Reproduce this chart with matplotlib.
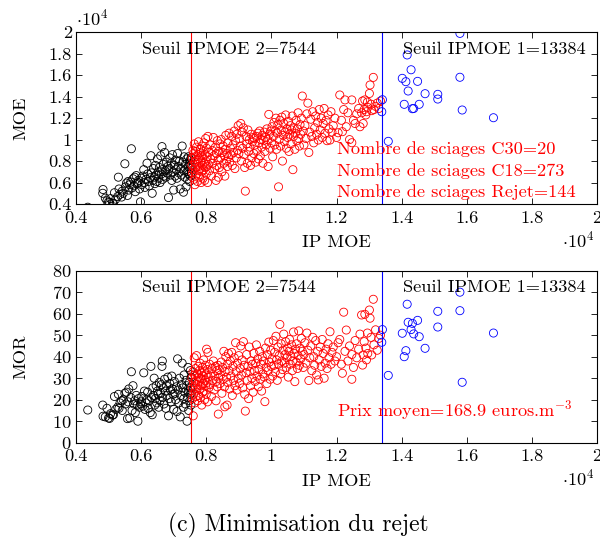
import matplotlib
matplotlib.use('Agg')
import matplotlib.pyplot as plt
from matplotlib.ticker import FuncFormatter, MultipleLocator

plt.rcParams['font.family'] = 'serif'
plt.rcParams['font.serif'] = ['cmr10', 'DejaVu Serif']
plt.rcParams['mathtext.fontset'] = 'cm'
plt.rcParams['axes.formatter.use_mathtext'] = True

# ---------------- data ----------------
seuil_ipmoe_2 = 7544
seuil_ipmoe_1 = 13384

# Rejet (black)
rejet_ip = [4360, 4820, 4830, 4900, 4950, 5000, 5030, 5060, 5120, 5150,
            5180, 5220, 5280, 5300, 5320, 5350, 5400, 5420, 5450, 5500,
            5520, 5550, 5580, 5600, 5620, 5650, 5680, 5700, 5720, 5750,
            5780, 5800, 5820, 5850, 5880, 5900, 5920, 5950, 5980, 6000,
            6020, 6050, 6080, 6100, 6120, 6150, 6180, 6200, 6220, 6250,
            6280, 6300, 6320, 6340, 6360, 6380, 6400, 6420, 6440, 6460,
            6480, 6500, 6520, 6540, 6560, 6580, 6600, 6620, 6640, 6650,
            6660, 6680, 6700, 6720, 6740, 6760, 6780, 6800, 6820, 6840,
            6860, 6880, 6900, 6920, 6940, 6960, 6980, 7000, 7020, 7040,
            7060, 7080, 7100, 7120, 7140, 7160, 7180, 7200, 7220, 7240,
            7260, 7280, 7300, 7310, 7320, 7340, 7360, 7380, 7400, 7410,
            7420, 7440, 7450, 7460, 7480, 7490, 7500, 7510, 7520, 7530,
            7535, 7540]
rejet_moe = [3700, 5000, 5350, 4550, 4300, 4200, 4150, 4500, 4100, 4050,
             5050, 4450, 4700, 6500, 5400, 4900, 4650, 5200, 5000, 7750,
             5600, 5950, 4800, 6100, 5300, 5800, 6050, 9150, 5500, 6350,
             5700, 6500, 5150, 6650, 5900, 6000, 6200, 5400, 4200, 6400,
             5800, 6600, 7200, 6000, 5550, 6300, 7800, 6800, 6100, 5700,
             6450, 8500, 6900, 5000, 6200, 7300, 6500, 5900, 7600, 6700,
             6100, 8200, 7000, 6400, 7400, 6000, 8500, 6800, 9350, 7200,
             6300, 7700, 6600, 8800, 7100, 6500, 7900, 6900, 7500, 4600,
             7300, 8300, 6700, 7800, 6200, 8600, 7000, 5300, 7600, 6600,
             8100, 7200, 6400, 8700, 7500, 6900, 8000, 5400, 7300, 6700,
             9400, 7900, 5100, 7100, 8400, 6500, 7700, 5600, 8200, 7000,
             6300, 7500, 8400, 6800, 7800, 6100, 7300, 8100, 6600, 7600,
             8300, 6900]
rejet_mor = [15.2, 17.5, 12.3, 12.0, 16.0, 11.5, 11.3, 13.5, 12.8, 13.0,
             21.5, 15.5, 16.5, 22.5, 16.0, 18.5, 19.5, 15.0, 20.0, 23.0,
             18.0, 23.5, 11.2, 19.0, 25.0, 11.5, 21.0, 33.0, 15.0, 26.5,
             18.0, 19.5, 14.0, 22.0, 17.5, 10.0, 20.5, 16.5, 18.0, 19.0,
             21.5, 17.0, 32.5, 24.0, 15.5, 18.5, 20.0, 23.5, 16.0, 19.5,
             14.0, 35.5, 21.0, 13.0, 25.5, 22.0, 30.0, 17.5, 20.5, 26.5,
             18.5, 24.0, 22.5, 16.5, 28.0, 19.5, 23.0, 27.0, 35.5, 38.0,
             21.0, 25.5, 18.0, 29.5, 24.0, 16.0, 26.5, 22.0, 30.5, 12.5,
             20.5, 27.5, 24.5, 19.0, 31.0, 25.0, 22.5, 15.5, 28.5, 23.0,
             20.0, 26.0, 14.5, 39.0, 24.5, 18.5, 30.0, 12.0, 22.0, 27.0,
             37.0, 25.5, 16.5, 20.5, 31.5, 23.5, 18.0, 29.0, 26.5, 10.0,
             21.0, 35.0, 24.0, 15.0, 28.0, 19.5, 22.5, 33.5, 25.5, 17.5,
             30.5, 23.0]

# C18 (red)
c18_ip = [7560, 7570, 7580, 7590, 7600, 7610, 7620, 7630, 7640, 7650,
          7660, 7670, 7680, 7690, 7700, 7710, 7720, 7730, 7740, 7750,
          7760, 7770, 7780, 7790, 7800, 7810, 7820, 7830, 7840, 7850,
          7860, 7870, 7880, 7890, 7900, 7910, 7920, 7930, 7940, 7950,
          7960, 7970, 7980, 7990, 8000, 8010, 8020, 8030, 8040, 8050,
          8060, 8080, 8100, 8120, 8140, 8160, 8180, 8200, 8220, 8240,
          8260, 8280, 8300, 8310, 8320, 8340, 8360, 8370, 8380, 8400,
          8420, 8440, 8460, 8480, 8500, 8520, 8540, 8560, 8570, 8580,
          8600, 8620, 8640, 8650, 8660, 8680, 8700, 8720, 8740, 8760,
          8780, 8800, 8820, 8840, 8860, 8880, 8900, 8920, 8940, 8960,
          8980,
          9000, 9020, 9040, 9060, 9080, 9100, 9120, 9140, 9160, 9180,
          9200, 9220, 9240, 9260, 9280, 9300, 9320, 9340, 9360, 9380,
          9400, 9420, 9440, 9460, 9480, 9500, 9520, 9540, 9560, 9580,
          9600, 9620, 9640, 9660, 9680, 9700, 9720, 9740, 9760, 9780,
          9800, 9820, 9840, 9860, 9880, 9900, 9920, 9940, 9960, 9980,
          10000, 10020, 10040, 10060, 10080, 10100, 10120, 10140, 10160, 10180,
          10200, 10220, 10240, 10260, 10280, 10300, 10320, 10340, 10360, 10380,
          10400, 10420, 10440, 10460, 10480, 10500, 10520, 10540, 10560, 10580,
          10600, 10620, 10640, 10660, 10680, 10700, 10720, 10740, 10760, 10780,
          10800, 10820, 10840, 10860, 10880, 10900, 10920, 10950, 10980,
          11000, 11030, 11060, 11090, 11120, 11150, 11180, 11210, 11240, 11270,
          11300, 11330, 11360, 11390, 11420, 11440, 11470, 11500, 11530, 11560,
          11590, 11620, 11650, 11680, 11710, 11740, 11770, 11800, 11830, 11860,
          11900, 11950,
          12000, 12050, 12100, 12150, 12180, 12220, 12260, 12300, 12350, 12400,
          12470, 12470, 12520, 12570, 12620, 12680, 12720, 12770, 12800, 12820,
          12850, 12870, 12900, 12920, 12950, 12960, 13010, 13030, 13060, 13080,
          13130, 13150, 13200, 13250, 13300, 13350]
c18_moe = [7600, 8300, 6900, 9000, 7200, 8700, 6300, 9600, 7900, 5800,
           8400, 7400, 8900, 6700, 9300, 7700, 8100, 6100, 8600, 7100,
           9800, 7500, 8200, 6500, 8800, 7300, 9100, 7900, 6000, 8500,
           7000, 9400, 7600, 8300, 6400, 8900, 7200, 9700, 7800, 6200,
           8600, 7400, 10100, 8000, 6800, 9200, 7500, 8400, 6000, 10300,
           7700, 8800, 7100, 9500, 8200, 6600, 9000, 7800, 10200, 8500,
           7300, 9300, 6200, 8700, 7600, 9900, 8100, 6500, 8900, 7400,
           9600, 8300, 10000, 7000, 8800, 9400, 7800, 8500, 6600, 9100,
           10400, 8000, 8700, 7500, 9700, 8400, 10600, 7900, 9200, 8600,
           10300, 7600, 9500, 8800, 10800, 7300, 9900, 8300, 10500, 9000,
           11300,
           8700, 10100, 9400, 11500, 8000, 10700, 9200, 11100, 8600, 7400,
           5200, 10300, 9600, 7800, 10900, 8900, 10000, 9300, 7600, 10500,
           8300, 9800, 10200, 8700, 10100, 9500, 7900, 10300, 9000, 10600,
           8200, 9700, 10800, 8500, 10000, 9300, 10400, 7800, 9900, 10700,
           8900, 10200, 9500, 11000, 10000, 7500, 12350, 10500, 9200, 10800,
           9700, 11200, 8400, 10300, 11600, 9500, 10800, 12000, 9100, 10600,
           11400, 5600, 10000, 11800, 9400, 10900, 12100, 8000, 10400, 11500,
           9800, 10700, 12300, 9200, 11000, 10200, 11700, 8900, 10500, 11300,
           9600, 10900, 12200, 7200, 10300, 11100, 9100, 10600, 11800, 9900,
           11000, 12500, 10100, 9400, 11400, 10500, 12000, 14060, 10800,
           9500, 11300, 10100, 12400, 13400, 8800, 10700, 11900, 10300, 12600,
           9700, 11100, 12200, 10500, 11600, 9960, 12800, 10900, 12000, 10200,
           11500, 12900, 10600, 11800, 9900, 12300, 11000, 9960, 12600, 10700,
           11300, 12000,
           10200, 10640, 14160, 11800, 10740, 12800, 13700, 11200, 12500, 10000,
           13700, 9710, 11800, 11500, 12400, 12900, 11200, 12500, 13600, 11500,
           12800, 13700, 12300, 12600, 13500, 13000, 14300, 15090, 13300, 12700,
           15800, 12800, 13100, 13400, 12900, 13600]
c18_mor = [30.0, 25.5, 20.5, 33.0, 12.5, 28.0, 23.0, 39.5, 31.5, 18.5,
           26.0, 34.5, 21.5, 29.0, 40.5, 24.5, 32.0, 27.0, 19.5, 35.5,
           30.5, 22.0, 28.5, 33.5, 25.0, 37.0, 21.0, 30.0, 26.5, 32.5,
           17.5, 29.5, 35.0, 23.5, 31.0, 27.5, 38.5, 24.0, 33.0, 20.0,
           29.0, 36.0, 26.5, 31.5, 22.5, 43.5, 28.0, 34.0, 19.0, 42.0,
           30.5, 25.5, 36.5, 27.0, 32.0, 21.5, 34.5, 29.0, 38.0, 24.5,
           31.0, 35.5, 19.5, 28.5, 33.5, 26.0, 36.0, 13.3, 30.0, 34.0,
           27.5, 31.5, 37.5, 23.0, 35.0, 29.5, 42.5, 26.0, 16.7, 33.0,
           40.0, 30.5, 17.5, 36.5, 28.0, 41.5, 33.5, 25.0, 38.0, 31.0,
           42.0, 22.0, 35.5, 29.0, 39.5, 26.5, 46.5, 33.0, 24.5, 37.0,
           30.0,
           40.5, 27.5, 34.5, 45.0, 31.5, 38.5, 25.5, 47.0, 36.0, 22.5,
           14.7, 32.5, 41.0, 29.0, 35.5, 20.5, 44.5, 33.0, 26.5, 38.0,
           30.0, 36.5, 23.5, 41.5, 33.5, 28.5, 37.0, 45.5, 31.0, 39.0,
           26.0, 34.0, 42.5, 29.5, 36.5, 24.0, 40.0, 32.0, 38.0, 30.5,
           19.1, 44.0, 35.0, 27.5, 41.0, 33.5, 46.8, 37.5, 29.5, 43.0,
           35.5, 39.0, 31.0, 47.5, 36.0, 42.0, 33.0, 49.5, 38.5, 29.0,
           44.5, 36.5, 40.5, 55.0, 32.0, 46.0, 38.0, 34.0, 43.0, 50.5,
           37.0, 41.0, 47.0, 35.0, 39.5, 44.0, 30.5, 42.5, 48.0, 36.5,
           40.0, 45.5, 33.5, 38.0, 51.5, 41.5, 28.4, 43.5, 37.5, 46.0,
           34.5, 40.5, 52.0, 36.0, 44.0, 39.0, 48.5, 42.5, 35.0,
           41.0, 46.5, 37.0, 51.0, 43.0, 28.9, 39.5, 45.0, 33.5, 49.0,
           40.0, 36.0, 47.5, 31.5, 42.5, 29.2, 38.5, 44.5, 35.5, 48.0,
           41.5, 30.0, 37.0, 43.5, 34.5, 46.0, 39.5, 51.6, 36.5, 42.0,
           44.5, 38.0,
           40.0, 46.5, 48.0, 36.5, 32.3, 60.7, 42.5, 52.4, 38.0, 45.0,
           29.5, 41.0, 35.0, 47.5, 39.5, 43.5, 50.5, 59.4, 36.1, 40.8,
           47.0, 59.7, 44.0, 38.5, 51.0, 41.5, 61.7, 57.9, 49.0, 40.8,
           66.7, 45.5, 52.5, 43.0, 48.5, 50.0]

# C30 (blue)
c30_ip = [15790, 14170, 14290, 14020, 14130, 14490, 15790, 14200, 14720, 15110,
          15110, 13410, 14080, 14540, 14330, 14370, 13390, 15860, 16820, 13590]
c30_moe = [19900, 17890, 16510, 15710, 15400, 15430, 15810, 14530, 14280, 14220,
           13780, 13720, 13290, 13290, 12880, 12900, 12600, 12760, 12040, 9840]
c30_mor = [70.0, 64.4, 52.6, 50.9, 42.8, 56.9, 61.4, 56.0, 43.9, 61.1,
           53.8, 52.6, 40.0, 49.3, 55.5, 50.6, 46.7, 28.1, 51.0, 31.3]

n_c30, n_c18, n_rejet = 20, 273, 144
prix_moyen = 168.9

# ---------------- figure ----------------
fig = plt.figure(figsize=(6.0, 5.42), dpi=100)
ax1 = fig.add_axes([0.1267, 0.6236, 0.8683, 0.3168])
ax2 = fig.add_axes([0.1267, 0.1832, 0.8683, 0.3174])

fs = 13.2
sc_kw = dict(s=34, facecolors='none', linewidths=0.6)

def n(*lists):
    return min(len(l) for l in lists)

for ax, rj, c18, c30 in [(ax1, rejet_moe, c18_moe, c30_moe),
                         (ax2, rejet_mor, c18_mor, c30_mor)]:
    k = n(rejet_ip, rj)
    ax.scatter(rejet_ip[:k], rj[:k], edgecolors='black', **sc_kw)
    k = n(c18_ip, c18)
    ax.scatter(c18_ip[:k], c18[:k], edgecolors='red', **sc_kw)
    k = n(c30_ip, c30)
    ax.scatter(c30_ip[:k], c30[:k], edgecolors='blue', **sc_kw)
    ax.axvline(seuil_ipmoe_2, color='red', lw=0.8)
    ax.axvline(seuil_ipmoe_1, color='blue', lw=0.8)
    ax.set_xlim(4000, 20000)
    ax.xaxis.set_major_locator(MultipleLocator(2000))
    ax.xaxis.set_major_formatter(FuncFormatter(lambda v, p: f"{v/1e4:g}"))
    ax.tick_params(direction='in', top=True, right=True, length=4, width=0.6,
                   labelsize=fs, pad=3)
    ax.tick_params(axis='x', pad=4.5)
    for sp in ax.spines.values():
        sp.set_linewidth(0.8)
    ax.set_xlabel('IP MOE', fontsize=fs)
    ax.xaxis.set_label_coords(0.5, -0.25)
    ax.xaxis.label.set_va('baseline')
    ax.text(0.995, -0.25, r'$\cdot10^4$', transform=ax.transAxes, ha='right',
            va='baseline', fontsize=fs)
    ax.text(0.126, 0.875, f'Seuil IPMOE 2={seuil_ipmoe_2}', transform=ax.transAxes,
            ha='left', va='baseline', fontsize=fs)
    ax.text(0.627, 0.875, f'Seuil IPMOE 1={seuil_ipmoe_1}', transform=ax.transAxes,
            ha='left', va='baseline', fontsize=fs)

ax1.set_ylim(4000, 20000)
ax1.yaxis.set_major_locator(MultipleLocator(2000))
ax1.yaxis.set_major_formatter(FuncFormatter(lambda v, p: f"{v/1e4:g}"))
ax1.set_ylabel('MOE', fontsize=fs)
ax1.yaxis.set_label_coords(-0.106, 0.5)
ax1.yaxis.label.set_va('center')
ax1.text(0.0, 1.038, r'$\cdot10^4$', transform=ax1.transAxes, ha='left',
         va='baseline', fontsize=fs)

ax2.set_ylim(0, 80)
ax2.yaxis.set_major_locator(MultipleLocator(10))
ax2.set_ylabel('MOR', fontsize=fs)
ax2.yaxis.set_label_coords(-0.106, 0.5)
ax2.yaxis.label.set_va('center')

for yy, txt in [(0.291, f'Nombre de sciages C30={n_c30}'),
                (0.165, f'Nombre de sciages C18={n_c18}'),
                (0.0425, f'Nombre de sciages Rejet={n_rejet}')]:
    ax1.text(0.5015, yy, txt, transform=ax1.transAxes, ha='left', va='baseline',
             color='red', fontsize=fs)

ax2.text(0.501, 0.151, f'Prix moyen={prix_moyen} euros.m' + r'$^{-3}$',
         transform=ax2.transAxes, ha='left', va='baseline', color='red', fontsize=fs)

fig.text(0.497, 0.0203, '(c) Minimisation du rejet', ha='center', va='baseline',
         fontsize=17)

fig.savefig('out.png', dpi=100)
